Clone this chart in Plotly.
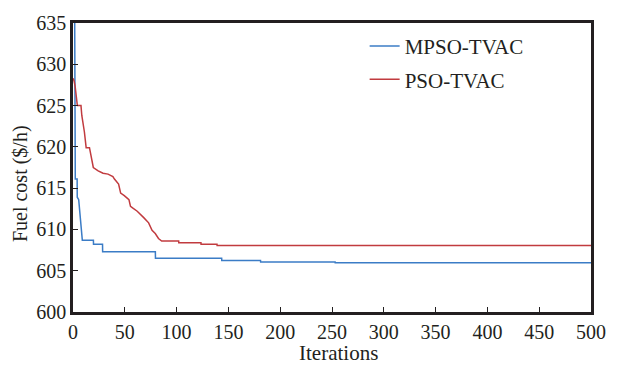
import plotly.graph_objects as go

# ---- data ----
mpso_iter = [0, 1.5, 2.2, 4, 4.1, 5.5, 9, 19.7, 19.8, 28.5, 28.6, 79.5, 79.6,
             143.5, 143.6, 181, 181.1, 253, 253.1, 500]
mpso_cost = [660, 640, 616.1, 616.1, 613.9, 613.6, 608.7, 608.7, 608.2, 608.2,
             607.3, 607.3, 606.5, 606.5, 606.25, 606.25, 606.07, 606.07, 605.95, 605.95]

pso_iter = [0, 1, 2, 4.2, 7.7, 8.5, 11, 12.7, 15.9, 18, 19.6, 24.3, 29, 33.8,
            38.5, 40, 44, 46, 49.5, 54, 55.5, 57.5, 62, 68.5, 73, 76.3, 79.4,
            82.5, 85.6, 102, 102.1, 123.5, 123.6, 139, 139.1, 500]
pso_cost = [628.3, 628.0, 627.4, 625.0, 625.0, 623.8, 621.8, 619.9, 619.9, 618.5,
            617.5, 617.1, 616.8, 616.7, 616.4, 616.1, 615.5, 614.4, 614.1, 613.6,
            612.8, 612.6, 612.2, 611.4, 610.8, 609.9, 609.5, 608.9, 608.6, 608.6,
            608.4, 608.4, 608.2, 608.2, 608.05, 608.05]

x_ticks = [0, 50, 100, 150, 200, 250, 300, 350, 400, 450, 500]
y_ticks = [600, 605, 610, 615, 620, 625, 630, 635]

series_names = ["MPSO-TVAC", "PSO-TVAC"]
x_title = "Iterations"
y_title = "Fuel cost ($/h)"

FONT = "Liberation Serif"
FRAME = "#231f20"
BLUE = "#3b7cc6"
RED = "#c13b3f"

fig = go.Figure()
fig.add_trace(go.Scatter(x=mpso_iter, y=mpso_cost, mode="lines", name=series_names[0],
                         line=dict(color=BLUE, width=1.5), legendgroup="a"))
fig.add_trace(go.Scatter(x=pso_iter, y=pso_cost, mode="lines", name=series_names[1],
                         line=dict(color=RED, width=1.5), legendgroup="b"))

W, H = 618, 368
ml, mr, mt, mb = 72.5, 16, 14, 56

fig.update_layout(
    width=W, height=H,
    margin=dict(l=ml, r=mr, t=mt, b=mb, pad=0),
    paper_bgcolor="white", plot_bgcolor="white",
    font=dict(family=FONT, size=20, color=FRAME),
    showlegend=True,
    legend=dict(x=0.563, y=0.99, xanchor="left", yanchor="top",
                bgcolor="rgba(0,0,0,0)", font=dict(family=FONT, size=21, color=FRAME),
                traceorder="grouped", tracegroupgap=3),
    xaxis=dict(range=[0, 500], tickvals=x_ticks, ticks="inside", ticklen=5,
               tickwidth=1.2, tickcolor=FRAME, showline=True, linewidth=2.5,
               linecolor=FRAME, mirror=True, showgrid=False, zeroline=False,
               tickfont=dict(family=FONT, size=20, color=FRAME)),
    yaxis=dict(range=[600, 635], tickvals=y_ticks, ticks="inside", ticklen=5,
               tickwidth=1.2, tickcolor=FRAME, showline=True, linewidth=2.5,
               linecolor=FRAME, mirror=True, showgrid=False, zeroline=False,
               tickfont=dict(family=FONT, size=20, color=FRAME)),
)

fig.add_annotation(text=x_title, xref="paper", yref="paper", x=0.5125, y=-0.143,
                   xanchor="center", yanchor="middle", showarrow=False,
                   font=dict(family=FONT, size=21, color=FRAME))
fig.add_annotation(text=y_title, xref="paper", yref="paper", x=-0.101, y=0.445,
                   xanchor="center", yanchor="middle", textangle=-90, showarrow=False,
                   font=dict(family=FONT, size=20, color=FRAME))

fig.write_html("out.html")
